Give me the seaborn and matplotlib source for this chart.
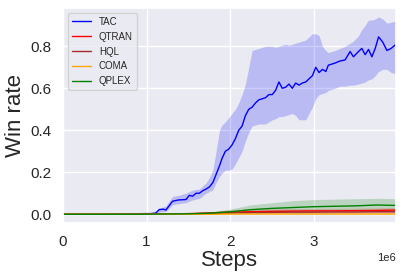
import matplotlib
matplotlib.use("Agg")
import matplotlib.pyplot as plt
import seaborn as sns
import numpy as np

# TAC (x in 1e6 steps)
tac_x = [0.00, 0.50, 0.98, 1.05, 1.11, 1.15, 1.20, 1.23, 1.31, 1.38, 1.47, 1.51, 1.55, 1.59,
         1.63, 1.67, 1.71, 1.75, 1.79, 1.83, 1.87, 1.90, 1.94, 1.98, 2.02, 2.06, 2.10, 2.14,
         2.18, 2.22, 2.26, 2.30, 2.34, 2.38, 2.42, 2.46, 2.50, 2.54, 2.58, 2.62, 2.66, 2.70,
         2.74, 2.78, 2.82, 2.86, 2.90, 2.94, 2.98, 3.02, 3.06, 3.10, 3.14, 3.17, 3.21, 3.25,
         3.31, 3.37, 3.43, 3.47, 3.53, 3.57, 3.61, 3.65, 3.69, 3.73, 3.77, 3.82, 3.87, 3.92, 3.98]
tac_mean = [0, 0, 0.003, 0.003, 0.006, 0.022, 0.024, 0.020, 0.062, 0.068, 0.070, 0.090, 0.086, 0.100,
            0.100, 0.112, 0.120, 0.130, 0.150, 0.190, 0.230, 0.265, 0.300, 0.310, 0.330, 0.360, 0.400, 0.420,
            0.470, 0.500, 0.510, 0.530, 0.545, 0.550, 0.555, 0.570, 0.570, 0.590, 0.630, 0.600, 0.605, 0.620,
            0.600, 0.625, 0.615, 0.625, 0.630, 0.645, 0.660, 0.700, 0.675, 0.690, 0.680, 0.710, 0.715, 0.720,
            0.730, 0.735, 0.775, 0.750, 0.775, 0.790, 0.760, 0.785, 0.750, 0.790, 0.845, 0.820, 0.780, 0.790, 0.810]
tac_low = [0, 0, 0.001, 0.001, 0.002, 0.010, 0.012, 0.012, 0.045, 0.050, 0.055, 0.062, 0.068, 0.072,
           0.075, 0.088, 0.100, 0.108, 0.116, 0.150, 0.180, 0.195, 0.210, 0.210, 0.215, 0.240, 0.270, 0.300,
           0.350, 0.390, 0.420, 0.425, 0.430, 0.430, 0.430, 0.440, 0.450, 0.455, 0.465, 0.465, 0.470, 0.475,
           0.480, 0.470, 0.450, 0.450, 0.450, 0.480, 0.510, 0.550, 0.570, 0.575, 0.580, 0.590, 0.595, 0.600,
           0.610, 0.610, 0.615, 0.615, 0.620, 0.625, 0.630, 0.640, 0.645, 0.660, 0.680, 0.690, 0.690, 0.675, 0.670]
tac_high = [0, 0, 0.005, 0.006, 0.012, 0.030, 0.035, 0.040, 0.085, 0.090, 0.100, 0.108, 0.115, 0.118,
            0.120, 0.135, 0.150, 0.175, 0.210, 0.300, 0.400, 0.425, 0.440, 0.460, 0.480, 0.500, 0.530, 0.570,
            0.620, 0.700, 0.780, 0.785, 0.790, 0.795, 0.800, 0.800, 0.800, 0.795, 0.800, 0.805, 0.810, 0.805,
            0.810, 0.815, 0.820, 0.825, 0.830, 0.845, 0.860, 0.860, 0.850, 0.800, 0.780, 0.770, 0.775, 0.780,
            0.790, 0.800, 0.815, 0.825, 0.850, 0.880, 0.900, 0.925, 0.925, 0.930, 0.940, 0.930, 0.910, 0.915, 0.920]

# baselines
base_x = [0.0, 0.5, 1.0, 1.5, 1.75, 2.0, 2.25, 2.5, 2.75, 3.0, 3.25, 3.5, 3.75, 3.98]
qtran_mean = [0, 0, 0, 0.003, 0.006, 0.010, 0.012, 0.014, 0.015, 0.016, 0.016, 0.017, 0.018, 0.020]
qtran_low = [0, 0, 0, 0.000, 0.001, 0.003, 0.004, 0.005, 0.005, 0.006, 0.006, 0.006, 0.007, 0.008]
qtran_high = [0, 0, 0, 0.007, 0.012, 0.020, 0.024, 0.026, 0.027, 0.028, 0.028, 0.029, 0.030, 0.032]
hql_mean = [0, 0, 0, 0.002, 0.004, 0.006, 0.008, 0.009, 0.010, 0.010, 0.011, 0.011, 0.012, 0.012]
hql_low = [0, 0, 0, 0.000, 0.001, 0.002, 0.003, 0.004, 0.004, 0.004, 0.005, 0.005, 0.005, 0.005]
hql_high = [0, 0, 0, 0.004, 0.007, 0.011, 0.014, 0.015, 0.016, 0.017, 0.018, 0.018, 0.019, 0.019]
coma_mean = [0, 0, 0, 0, 0, 0.001, 0.001, 0.001, 0.001, 0.001, 0.001, 0.001, 0.001, 0.001]
coma_low = [0, 0, 0, 0, 0, 0, 0, 0, 0, 0, 0, 0, 0, 0]
coma_high = [0, 0, 0, 0.001, 0.001, 0.003, 0.003, 0.003, 0.003, 0.003, 0.003, 0.003, 0.003, 0.003]
qplex_mean = [0, 0, 0, 0.002, 0.005, 0.012, 0.022, 0.028, 0.032, 0.036, 0.038, 0.040, 0.044, 0.042]
qplex_low = [0, 0, 0, 0.000, 0.001, 0.004, 0.008, 0.012, 0.012, 0.014, 0.015, 0.016, 0.018, 0.018]
qplex_high = [0, 0, 0, 0.005, 0.010, 0.025, 0.045, 0.055, 0.065, 0.070, 0.072, 0.074, 0.076, 0.074]

sns.set_theme(style="darkgrid")
plt.rcParams['font.family'] = ['Liberation Sans', 'DejaVu Sans']

fig, ax = plt.subplots(figsize=(4.03, 2.79), dpi=100)
fig.subplots_adjust(left=0.156, right=0.983, bottom=0.199, top=0.971)

series = [
    ("TAC", "blue", tac_x, tac_mean, tac_low, tac_high),
    ("QTRAN", "red", base_x, qtran_mean, qtran_low, qtran_high),
    ("HQL", "brown", base_x, hql_mean, hql_low, hql_high),
    ("COMA", "orange", base_x, coma_mean, coma_low, coma_high),
    ("QPLEX", "green", base_x, qplex_mean, qplex_low, qplex_high),
]
for name, col, xs, m, lo, hi in series:
    xs = np.array(xs) * 1e6
    sns.lineplot(x=xs, y=m, color=col, linewidth=1.0, label=name, ax=ax)
    ax.fill_between(xs, lo, hi, color=col, alpha=0.2, linewidth=0)

ax.set_xlim(0, 3.98e6)
ax.set_ylim(-0.044, 0.982)
ax.set_xticks([0, 1e6, 2e6, 3e6])
ax.tick_params(labelsize=11, pad=2)
ax.xaxis.get_offset_text().set_fontsize(8)
ax.set_xlabel("Steps", fontsize=16, labelpad=1)
ax.set_ylabel("Win rate", fontsize=16, labelpad=3)
ax.legend(loc="upper left", fontsize=7)

fig.savefig("out.png", dpi=100)
